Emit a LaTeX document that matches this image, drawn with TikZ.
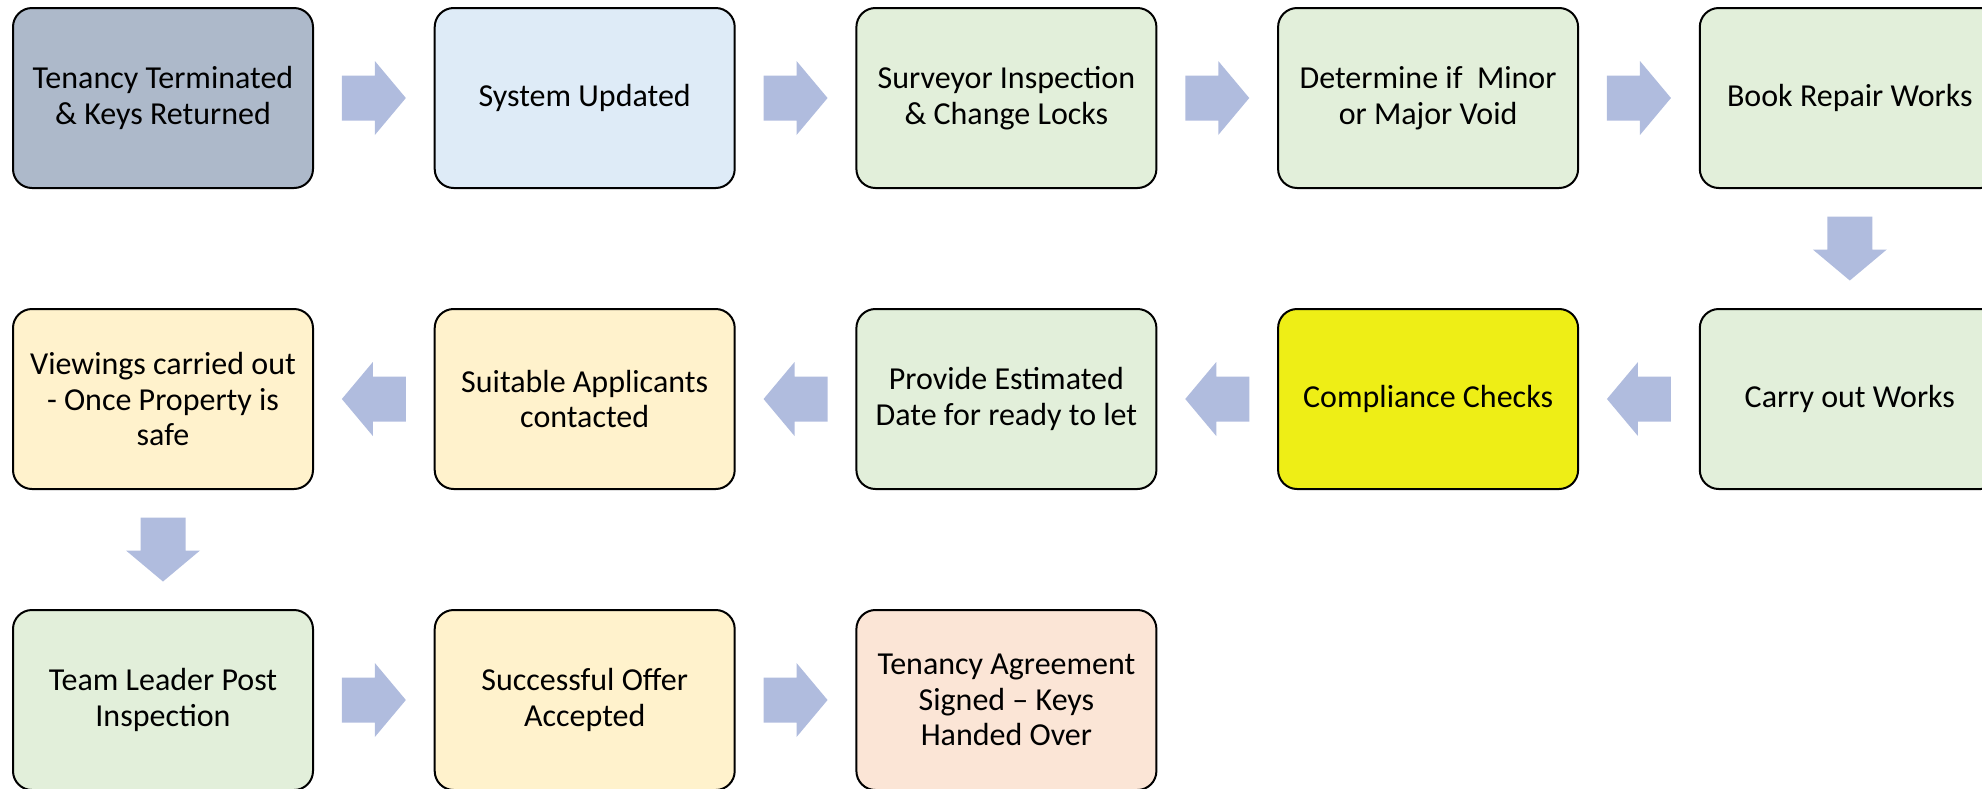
\documentclass[tikz,border=0pt]{standalone}
\usepackage{fontspec}
\setmainfont{Carlito}
\usetikzlibrary{calc}
\definecolor{cgrey}{RGB}{173,185,202}
\definecolor{cblue}{RGB}{222,235,247}
\definecolor{cgreen}{RGB}{226,239,218}
\definecolor{cyellow}{RGB}{238,238,22}
\definecolor{corange}{RGB}{255,242,204}
\definecolor{cpeach}{RGB}{251,229,214}
\definecolor{carrow}{RGB}{176,188,222}
\tikzset{
  stepbox/.style={draw=black, line width=2pt, rounded corners=19pt,
    minimum width=300pt, minimum height=180pt, inner sep=0pt, align=center,
    font=\fontsize{32}{35.5}\selectfont, text=black},
  blockarrow/.style={fill=carrow, draw=none}
}
\newcommand{\barrow}[3]{% from, to, rotation
  \fill[blockarrow, shift={($(#1)!0.5!(#2)$)}, rotate=#3]
    (-32,-22.5) -- (1,-22.5) -- (1,-37) -- (32,0) -- (1,37) -- (1,22.5) -- (-32,22.5) -- cycle;}
\begin{document}
\begin{tikzpicture}[x=1pt,y=-1pt]
\useasboundingbox (0,0) rectangle (1982,788);
% row 1
\node[stepbox, fill=cgrey]  (n1) at (163,98)    {Tenancy Terminated\\\& Keys Returned};
\node[stepbox, fill=cblue]  (n2) at (584.7,98)  {System Updated};
\node[stepbox, fill=cgreen] (n3) at (1006.4,98) {Surveyor Inspection\\\& Change Locks};
\node[stepbox, fill=cgreen] (n4) at (1428.1,98) {Determine if\ \ Minor\\or Major Void};
\node[stepbox, fill=cgreen] (n5) at (1849.8,98) {Book Repair Works};
% row 2
\node[stepbox, fill=cgreen]  (n6)  at (1849.8,399) {Carry out Works};
\node[stepbox, fill=cyellow] (n7)  at (1428.1,399) {Compliance Checks};
\node[stepbox, fill=cgreen]  (n8)  at (1006.4,399) {Provide Estimated\\Date for ready to let};
\node[stepbox, fill=corange] (n9)  at (584.7,399)  {Suitable Applicants\\contacted};
\node[stepbox, fill=corange] (n10) at (163,399)    {Viewings carried out\\- Once Property is\\safe};
% row 3
\node[stepbox, fill=cgreen]  (n11) at (163,700)    {Team Leader Post\\Inspection};
\node[stepbox, fill=corange] (n12) at (584.7,700)  {Successful Offer\\Accepted};
\node[stepbox, fill=cpeach]  (n13) at (1006.4,700) {Tenancy Agreement\\Signed – Keys\\Handed Over};
% arrows
\barrow{n1.east}{n2.west}{0}
\barrow{n2.east}{n3.west}{0}
\barrow{n3.east}{n4.west}{0}
\barrow{n4.east}{n5.west}{0}
\barrow{n5.south}{n6.north}{-90}
\barrow{n6.west}{n7.east}{180}
\barrow{n7.west}{n8.east}{180}
\barrow{n8.west}{n9.east}{180}
\barrow{n9.west}{n10.east}{180}
\barrow{n10.south}{n11.north}{-90}
\barrow{n11.east}{n12.west}{0}
\barrow{n12.east}{n13.west}{0}
\end{tikzpicture}
\end{document}
